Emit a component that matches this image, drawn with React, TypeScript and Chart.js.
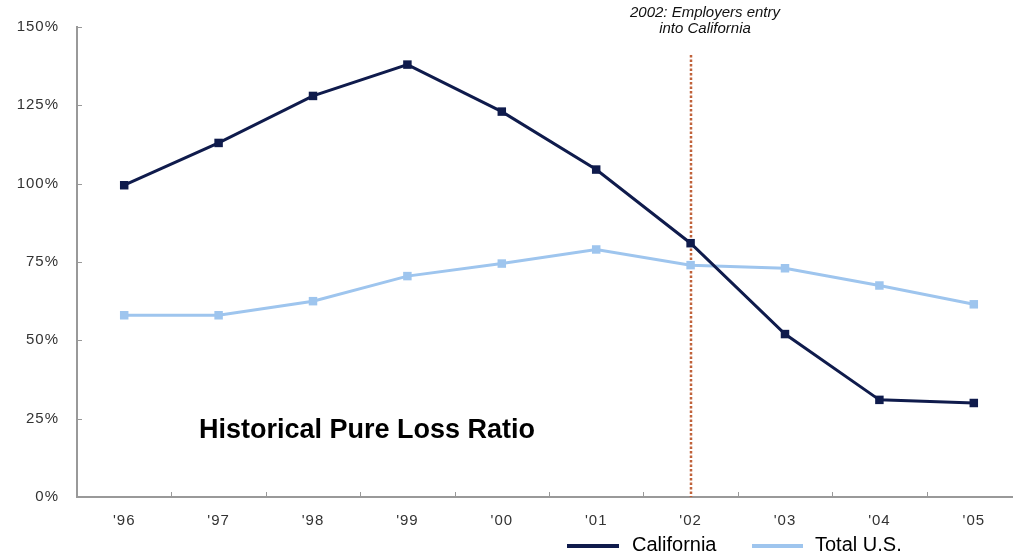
import React, { useEffect, useRef } from "react";
import { Chart, registerables } from "chart.js";

Chart.register(...registerables);

const years = ["'96", "'97", "'98", "'99", "'00", "'01", "'02", "'03", "'04", "'05"];
const california = [99.5, 113, 128, 138, 123, 104.5, 81, 52, 31, 30];
const totalUS = [58, 58, 62.5, 70.5, 74.5, 79, 74, 73, 67.5, 61.5];
const yTicks = [0, 25, 50, 75, 100, 125, 150];
const markerIndex = 6;
const markerNote = ["2002: Employers entry", "into California"];
const chartTitle = "Historical Pure Loss Ratio";
const seriesNames = ["California", "Total U.S."];

const NAVY = "#0f1b4c";
const LIGHT = "#9ec5ee";
const AXIS = "#999";
const FONT = "'Liberation Sans', Arial, sans-serif";

const overlay = {
  id: "overlay",
  beforeDraw(chart: any) {
    chart.ctx.letterSpacing = "1px";
  },
  beforeDatasetsDraw(chart: any) {
    const { ctx, scales, chartArea } = chart;
    const x = Math.round(scales.x.getPixelForValue(markerIndex));
    ctx.save();
    ctx.strokeStyle = "#c0623a";
    ctx.lineWidth = 2.5;
    ctx.setLineDash([2.5, 2]);
    ctx.beginPath();
    ctx.moveTo(x, 55);
    ctx.lineTo(x, chartArea.bottom);
    ctx.stroke();
    ctx.restore();
  },
  afterDatasetsDraw(chart: any) {
    const { ctx, scales, chartArea } = chart;
    const xs = scales.x;
    const ys = scales.y;
    ctx.save();
    ctx.letterSpacing = "0px";
    // inward tick marks
    ctx.strokeStyle = AXIS;
    ctx.lineWidth = 1;
    ctx.beginPath();
    yTicks.forEach((v) => {
      const y = Math.round(ys.getPixelForValue(v)) + 0.5;
      ctx.moveTo(chartArea.left, y);
      ctx.lineTo(chartArea.left + 5, y);
    });
    for (let i = 1; i < years.length; i++) {
      const x = Math.round((xs.getPixelForValue(i - 1) + xs.getPixelForValue(i)) / 2) + 0.5;
      ctx.moveTo(x, chartArea.bottom);
      ctx.lineTo(x, chartArea.bottom - 5);
    }
    ctx.stroke();
    const x = Math.round(xs.getPixelForValue(markerIndex));
    // note
    ctx.fillStyle = "#111";
    ctx.font = `italic 15px ${FONT}`;
    ctx.textAlign = "center";
    ctx.textBaseline = "middle";
    ctx.fillText(markerNote[0], x + 14, 13);
    ctx.fillText(markerNote[1], x + 14, 29);
    // title
    ctx.font = `bold 27px ${FONT}`;
    ctx.textAlign = "left";
    ctx.fillStyle = "#000";
    ctx.fillText(chartTitle, 199, 431);
    // legend
    ctx.font = `20px ${FONT}`;
    ctx.textAlign = "left";
    ctx.fillStyle = "#000";
    ctx.lineWidth = 4;
    ctx.strokeStyle = NAVY;
    ctx.beginPath();
    ctx.moveTo(567, 546);
    ctx.lineTo(619, 546);
    ctx.stroke();
    ctx.fillText(seriesNames[0], 632, 545);
    ctx.strokeStyle = LIGHT;
    ctx.beginPath();
    ctx.moveTo(752, 546);
    ctx.lineTo(803, 546);
    ctx.stroke();
    ctx.fillText(seriesNames[1], 815, 545);
    ctx.restore();
  },
};

export default function App() {
  const ref = useRef<HTMLCanvasElement>(null);
  useEffect(() => {
    document.body.style.margin = "0";
    const chart = new Chart(ref.current!, {
      type: "line",
      data: {
        labels: years,
        datasets: [
          {
            label: seriesNames[0],
            data: california,
            borderColor: NAVY,
            backgroundColor: NAVY,
            borderWidth: 3,
            pointStyle: "rect",
            pointRadius: 6,
            pointBorderWidth: 0,
            tension: 0,
          },
          {
            label: seriesNames[1],
            data: totalUS,
            borderColor: LIGHT,
            backgroundColor: LIGHT,
            borderWidth: 3,
            pointStyle: "rect",
            pointRadius: 6,
            pointBorderWidth: 0,
            tension: 0,
          },
        ],
      },
      options: {
        responsive: false,
        animation: false,
        layout: { padding: { top: 25, right: 0, left: 0, bottom: 0 } },
        plugins: { legend: { display: false }, tooltip: { enabled: false } },
        scales: {
          x: {
            offset: true,
            grid: { display: true, drawOnChartArea: false, drawTicks: false, offset: true },
            border: { color: AXIS, width: 2 },
            ticks: { color: "#333", font: { family: FONT, size: 15 }, padding: 15, maxRotation: 0 },
            afterFit: (s: any) => { s.height = 61; },
          },
          y: {
            min: 0,
            max: 150,
            afterBuildTicks: (s: any) => { s.ticks = yTicks.map((v) => ({ value: v })); },
            grid: { display: true, drawOnChartArea: false, drawTicks: false },
            border: { color: AXIS, width: 2 },
            ticks: {
              color: "#333",
              font: { family: FONT, size: 15 },
              padding: 18,
              callback: (v: any) => `${v}%`,
            },
            afterFit: (s: any) => { s.width = 77; },
          },
        },
      },
      plugins: [overlay],
    });
    return () => chart.destroy();
  }, []);
  return (
    <div style={{ width: 1013, height: 558, overflow: "hidden" }}>
      <canvas ref={ref} width={1027} height={558} style={{ display: "block" }} />
    </div>
  );
}
